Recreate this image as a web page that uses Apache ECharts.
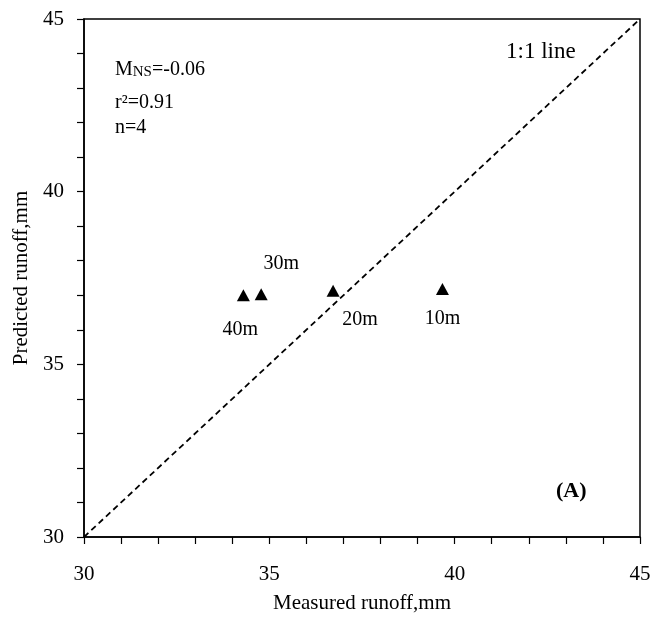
<!DOCTYPE html>
<html>
<head>
<meta charset="utf-8">
<script src="https://cdn.jsdelivr.net/npm/echarts@6/dist/echarts.min.js"></script>
<style>html,body{margin:0;padding:0;background:#fff}#c{width:654px;height:619px}</style>
</head>
<body>
<div id="c"></div>
<script>
// Data
const siteNames = ['40m', '30m', '20m', '10m'];
const measured = [34.30, 34.78, 36.72, 39.67];
const predicted = [37.00, 37.03, 37.13, 37.18];
const oneToOne = [[30, 30], [45, 45]];
const axisMin = 30, axisMax = 45, labelStep = 5;

// Label layout (style, not data)
const labelOffsets = [[-3, 34], [20, -30], [27, 29], [0, 30]];

const FONT = '"Liberation Serif", "Times New Roman", serif';
const chart = echarts.init(document.getElementById('c'));

const pts = siteNames.map((n, i) => ({
  name: n,
  value: [measured[i], predicted[i]],
  label: { offset: labelOffsets[i] }
}));

function axisCommon(name, gap, labelMargin) {
  return {
    type: 'value', min: axisMin, max: axisMax, interval: 1,
    name: name, nameLocation: 'middle', nameGap: gap,
    nameTextStyle: { fontFamily: FONT, fontSize: 21, color: '#000' },
    axisLine: { show: true, lineStyle: { color: '#000', width: 1.5 } },
    axisTick: { show: true, inside: false, length: 7, lineStyle: { color: '#000', width: 1.2 } },
    axisLabel: {
      fontFamily: FONT, fontSize: 21, color: '#000', margin: labelMargin,
      formatter: v => (v % labelStep === 0 ? String(v) : '')
    },
    splitLine: { show: false }
  };
}

chart.setOption({
  animation: false,
  backgroundColor: '#fff',
  grid: { left: 84, right: 14, top: 19, bottom: 79, show: true, borderColor: '#000', borderWidth: 1.5, containLabel: false },
  xAxis: axisCommon('Measured runoff,mm', 56, 27),
  yAxis: axisCommon('Predicted runoff,mm', 48, 20),
  series: [
    {
      type: 'line', data: oneToOne, showSymbol: false, symbol: 'none',
      lineStyle: { color: '#000', width: 1.8, type: [6, 4] }, silent: true, z: 1
    },
    {
      type: 'scatter', data: pts, symbol: 'triangle', symbolSize: [13, 12],
      itemStyle: { color: '#000', opacity: 1 }, z: 3,
      label: {
        show: true, position: 'inside', formatter: p => p.name,
        fontFamily: FONT, fontSize: 20, color: '#000', opacity: 1, textBorderWidth: 0
      }
    }
  ],
  graphic: [
    { type: 'text', left: 506, top: 40, style: { text: '1:1 line', fontFamily: FONT, fontSize: 23, fill: '#000' } },
    { type: 'text', left: 115, top: 60, style: {
        text: '{m|M}{s|NS}{m|=-0.06}',
        rich: { m: { fontFamily: FONT, fontSize: 20, fill: '#000', verticalAlign: 'bottom' },
                s: { fontFamily: FONT, fontSize: 15, fill: '#000', verticalAlign: 'bottom' } },
        fill: '#000' } },
    { type: 'text', left: 115, top: 93, style: { text: 'r\u00b2=0.91', fontFamily: FONT, fontSize: 20, fill: '#000' } },
    { type: 'text', left: 115, top: 118, style: { text: 'n=4', fontFamily: FONT, fontSize: 20, fill: '#000' } },
    { type: 'text', left: 556, top: 480, style: { text: '(A)', fontFamily: FONT, fontSize: 22, fontWeight: 'bold', fill: '#000' } }
  ]
});
</script>
</body>
</html>
